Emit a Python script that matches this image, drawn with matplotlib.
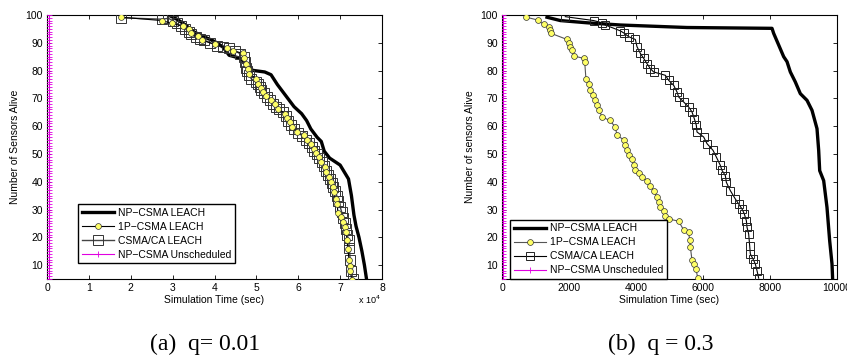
import matplotlib
matplotlib.use("Agg")
import matplotlib.pyplot as plt

plt.rcParams['font.family'] = ['Liberation Sans', 'DejaVu Sans']

# ---------------- data: (a) q = 0.01, time in units of 10^4 s ----------------
np_a_x = [2.9, 3.1, 3.3, 3.5, 3.7, 4.0, 4.2, 4.35, 4.6, 4.72,
          4.8, 4.95, 5.2, 5.35, 5.5, 5.7, 5.9, 6.08, 6.2, 6.3,
          6.45, 6.55, 6.62, 6.75, 6.9, 7.0, 7.12, 7.2, 7.27, 7.33,
          7.38, 7.45, 7.52, 7.58, 7.63]
np_a_y = [100, 98.5, 96.5, 94, 92.5, 90.5, 88.5, 85.5, 84.5, 83,
          80.5, 80, 79.5, 78.5, 75, 71, 67, 64.5, 62, 59,
          56, 54.5, 51, 48.5, 47, 46, 43, 41, 35, 28,
          24, 20, 15, 10, 5]

p1_a_x = [1.77, 2.74, 2.98, 3.24, 3.38, 3.43, 3.6, 3.69, 4.01, 4.31,
          4.45, 4.68, 4.71, 4.75, 4.79, 4.83, 5.0, 5.04, 5.1, 5.16,
          5.24, 5.36, 5.44, 5.52, 5.68, 5.73, 5.8, 5.86, 5.98, 6.13,
          6.21, 6.31, 6.37, 6.42, 6.5, 6.55, 6.63, 6.67, 6.74, 6.79,
          6.82, 6.85, 6.89, 6.93, 6.95, 7.03, 7.07, 7.11, 7.15, 7.16,
          7.19, 7.21, 7.23, 7.24, 7.28]
p1_a_y = [99.2, 98, 97, 96, 94.8, 93.4, 92.4, 91, 89.4, 88,
          87.1, 86.2, 84.4, 82.5, 80.7, 78.9, 77.1, 75.3, 73.9, 72.3,
          70.8, 69.3, 67.9, 66.3, 64.5, 63.1, 61.5, 59.7, 57.9, 56.7,
          55.1, 53.7, 51.9, 50.3, 48.9, 47.1, 45.2, 43.4, 41.6, 39.8,
          38, 36.2, 33.8, 32, 28.6, 27.2, 25.4, 23.6, 21.8, 19,
          15.8, 11.8, 9.7, 7.9, 4.6]

ca_a_x = [1.77, 2.74, 2.9, 3.0, 3.1, 3.2, 3.3, 3.38, 3.45, 3.55,
          3.65, 3.75, 3.9, 4.05, 4.2, 4.35, 4.5, 4.62, 4.7, 4.72,
          4.75, 4.78, 4.82, 4.88, 4.98, 5.03, 5.08, 5.12, 5.18, 5.25,
          5.32, 5.4, 5.48, 5.55, 5.63, 5.7, 5.76, 5.82, 5.9, 6.0,
          6.1, 6.18, 6.25, 6.32, 6.38, 6.45, 6.5, 6.56, 6.62, 6.66,
          6.7, 6.75, 6.8, 6.84, 6.88, 6.92, 6.96, 7.0, 7.04, 7.08,
          7.12, 7.15, 7.17, 7.2, 7.22, 7.24, 7.27, 7.3]
ca_a_y = [99, 98.5, 98.8, 98, 97, 96, 95, 94, 93, 92,
          91.5, 91, 90, 89, 88.5, 88, 87, 86, 85, 83,
          81, 80, 78.5, 77, 76, 75, 74, 73, 72, 70.5,
          69.5, 68, 67, 66, 65, 63.5, 62, 60.5, 59, 57.5,
          56.5, 55, 54, 52.5, 51, 50, 48.5, 47, 45.5, 44,
          42.5, 41, 39.5, 38, 36.5, 35, 33, 31, 29, 27,
          25, 23, 21, 19, 16, 12, 8, 5]

# unscheduled: all nodes die almost immediately
un_alive = list(range(100, 4, -1))
un_a_time = 0.05          # x 10^4 s
un_b_time = 40            # s

# ---------------- data: (b) q = 0.3, time in seconds ----------------
np_b_x = [1343, 1741, 2537, 3532, 5522, 8060, 8109, 8259, 8408, 8508,
          8607, 8756, 8905, 9104, 9254, 9403, 9453, 9483, 9602, 9701,
          9781, 9851, 9871]
np_b_y = [99.2, 98, 97.2, 96.4, 95.5, 95.2, 93.4, 89.2, 85, 83.2,
          79.5, 75.9, 71.7, 69.3, 65.7, 59.1, 51.3, 44, 40.4, 30.8,
          18.8, 10.4, 4.6]

p1_b_x = [726, 1065, 1244, 1393, 1423, 1463, 1940, 2010, 2040, 2090,
          2159, 2438, 2468, 2507, 2587, 2637, 2706, 2786, 2836, 2905,
          2985, 3214, 3383, 3433, 3632, 3682, 3731, 3781, 3881, 3930,
          3980, 4080, 4179, 4328, 4428, 4527, 4627, 4697, 4726, 4826,
          4876, 4975, 5274, 5423, 5572, 5602, 5622, 5671, 5741, 5791,
          5841]
p1_b_y = [99.2, 98.2, 96.6, 95.8, 94.6, 93.4, 91.2, 90, 88.6, 87.4,
          85.2, 84.4, 83.2, 76.8, 75.3, 72.9, 71.1, 69.3, 67.5, 65.7,
          63.3, 62.1, 59.7, 56.7, 55.1, 53.1, 51.3, 49.8, 48.3, 46.2,
          44.3, 43.1, 41.6, 40.4, 38.6, 36.8, 34.4, 32.6, 30.8, 29.6,
          27.8, 26.6, 25.8, 22.6, 21.8, 19, 16.6, 11.8, 10.4, 8.5,
          5.5]

ca_b_x = [1890, 2736, 2985, 3085, 3532, 3652, 3781, 3980, 4030, 4129,
          4229, 4328, 4428, 4527, 4876, 4975, 5124, 5224, 5274, 5423,
          5572, 5672, 5741, 5801, 5821, 6020, 6120, 6299, 6398, 6517,
          6567, 6667, 6697, 6816, 6965, 7065, 7164, 7234, 7294, 7314,
          7363, 7393, 7413, 7493, 7562, 7612, 7662]
ca_b_y = [99.4, 98, 97.2, 96.4, 94.3, 93.4, 92.2, 91.2, 88.6, 86.2,
          84.4, 82.5, 80.7, 79.5, 78.3, 76.5, 74.7, 72.3, 70.5, 68.7,
          66.9, 65.1, 62.7, 60.3, 57.9, 56.1, 53.7, 51.3, 48.9, 45.9,
          44.1, 42.2, 39.8, 36.8, 33.8, 32, 30.2, 28.4, 26, 23.6,
          21.2, 17, 14, 12.2, 10.4, 8, 5.3]

labels = ["NP\u2212CSMA LEACH", "1P\u2212CSMA LEACH", "CSMA/CA LEACH",
          "NP\u2212CSMA Unscheduled"]
a_xticks = [0, 1, 2, 3, 4, 5, 6, 7, 8]
b_xticks = [0, 2000, 4000, 6000, 8000, 10000]
yticks = [10, 20, 30, 40, 50, 60, 70, 80, 90, 100]

YELLOW = "#ffff66"
MAGENTA = "#e000e0"
FS = 7.5

fig = plt.figure(figsize=(8.47, 3.6), dpi=100)
axA = fig.add_axes([47 / 847, 81 / 360, 335 / 847, 264 / 360])
axB = fig.add_axes([502 / 847, 81 / 360, 335 / 847, 264 / 360])


def style(ax, xt, xlim, ylabel):
    ax.set_xlim(*xlim)
    ax.set_ylim(5, 100)
    ax.set_xticks(xt)
    ax.set_yticks(yticks)
    ax.tick_params(direction='in', length=3, width=0.6, labelsize=FS,
                   top=True, right=True, pad=3)
    for s in ax.spines.values():
        s.set_linewidth(0.8)
    ax.set_xlabel("Simulation Time (sec)", fontsize=FS, labelpad=1)
    ax.set_ylabel(ylabel, fontsize=FS, labelpad=4)


def legend(ax, handles, anchor):
    leg = ax.legend(handles, labels, loc='lower left',
                    bbox_to_anchor=anchor, fontsize=FS, frameon=True,
                    fancybox=False, edgecolor='black', framealpha=1,
                    borderpad=0.35, labelspacing=0.38, handlelength=3.1,
                    handletextpad=0.35, borderaxespad=0)
    leg.get_frame().set_linewidth(1.0)
    return leg


# (a)
hA0, = axA.plot(np_a_x, np_a_y, color='black', lw=2.4, zorder=3)
hA2, = axA.plot(ca_a_x, ca_a_y, color='#444444', lw=1.0, marker='s',
                ms=7.5, mfc='none', mec='#333333', mew=0.7, zorder=4)
hA1, = axA.plot(p1_a_x, p1_a_y, color='black', lw=0.8, marker='o',
                ms=4.2, mfc=YELLOW, mec='#333333', mew=0.5, zorder=5)
hA3, = axA.plot([un_a_time] * len(un_alive), un_alive, color=MAGENTA,
                lw=0.8, marker='+', ms=4, mew=0.6, zorder=6)
style(axA, a_xticks, (0, 8), "Number of Sensors Alive")
axA.text(0.995, -0.08, r"x 10$^{4}$", transform=axA.transAxes,
         fontsize=6.5, ha='right', va='center')
legend(axA, [hA0, hA1, hA2, hA3], (0.0925, 0.06))

# (b)
hB0, = axB.plot(np_b_x, np_b_y, color='black', lw=2.4, zorder=3)
hB2, = axB.plot(ca_b_x, ca_b_y, color='black', lw=0.8, marker='s',
                ms=5.5, mfc='none', mec='#222222', mew=0.7, zorder=4)
hB1, = axB.plot(p1_b_x, p1_b_y, color='#555555', lw=0.8, marker='o',
                ms=4.2, mfc=YELLOW, mec='#333333', mew=0.5, zorder=5)
hB3, = axB.plot([un_b_time] * len(un_alive), un_alive, color=MAGENTA,
                lw=0.8, marker='+', ms=4, mew=0.6, zorder=6)
style(axB, b_xticks, (0, 10000), "Number of sensors Alive")
legend(axB, [hB0, hB1, hB2, hB3], (0.024, 0.0))

# captions
cap_font = ['Liberation Serif', 'DejaVu Serif']
fig.text(205 / 847, 1 - 344 / 360, "(a)  q= 0.01", ha='center', va='center',
         fontsize=17, family=cap_font)
fig.text(661 / 847, 1 - 344 / 360, "(b)  q = 0.3", ha='center', va='center',
         fontsize=17, family=cap_font)

fig.savefig("out.png", dpi=100)
